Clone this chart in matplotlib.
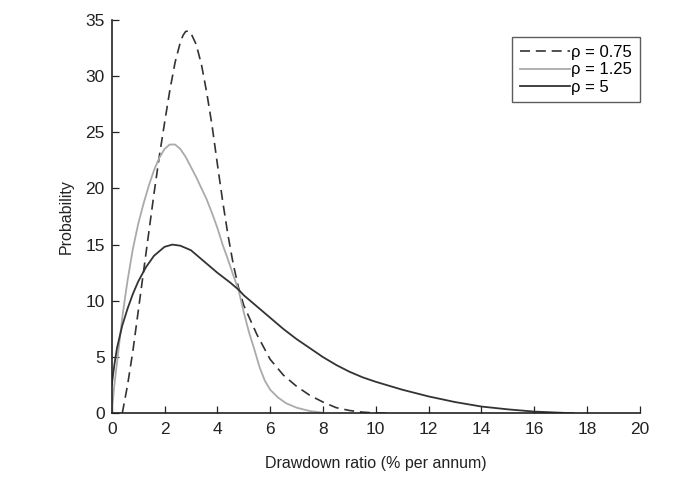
import matplotlib
matplotlib.use("Agg")
import matplotlib.pyplot as plt

plt.rcParams["font.family"] = ["Liberation Sans", "DejaVu Sans"]

# rho = 0.75 (dashed)
x_075 = [0.4, 0.6, 0.8, 1.0, 1.2, 1.4, 1.6, 1.8, 2.0, 2.2, 2.4, 2.6, 2.7, 2.8,
         2.9, 3.0, 3.2, 3.4, 3.6, 3.8, 4.0, 4.2, 4.4, 4.6, 4.8, 5.0, 5.5, 6.0,
         6.5, 7.0, 7.5, 8.0, 8.5, 9.0, 9.5, 10.0, 10.5]
y_075 = [0, 2.5, 5.5, 9, 12.5, 16, 19.5, 22.8, 25.8, 28.7, 31.2, 33.0, 33.6, 33.95,
         34.0, 33.8, 32.8, 31, 28.5, 25.6, 22.2, 18.9, 15.9, 13.3, 11.2, 9.6, 7,
         4.8, 3.4, 2.4, 1.6, 1.0, 0.5, 0.25, 0.1, 0.03, 0]

# rho = 1.25 (thin grey)
x_125 = [0.0, 0.1, 0.2, 0.3, 0.4, 0.5, 0.6, 0.8, 1.0, 1.2, 1.4, 1.6, 1.8, 2.0,
         2.2, 2.4, 2.6, 2.8, 3.0, 3.2, 3.4, 3.6, 3.8, 4.0, 4.2, 4.4, 4.6, 4.8,
         5.0, 5.2, 5.4, 5.6, 5.8, 6.0, 6.3, 6.6, 7.0, 7.5, 8.0]
y_125 = [0, 2.5, 4.5, 6.5, 8.5, 10.2, 11.8, 14.6, 16.8, 18.6, 20.2, 21.6, 22.7,
         23.5, 23.9, 23.9, 23.5, 22.8, 21.9, 21.0, 20.0, 19.0, 17.8, 16.5, 15.0,
         13.7, 12.3, 11.0, 9.0, 7.2, 5.7, 4.1, 2.9, 2.1, 1.4, 0.9, 0.5, 0.2, 0.05]

# rho = 5 (solid dark)
x_5 = [0.0, 0.1, 0.2, 0.4, 0.6, 0.8, 1.0, 1.3, 1.6, 2.0, 2.3, 2.6, 3.0, 3.5,
       4.0, 4.5, 4.8, 5.0, 5.5, 6.0, 6.5, 7.0, 7.5, 8.0, 8.5, 9.0, 9.5, 10.0,
       11, 12, 13, 14, 15, 16, 17, 17.5]
y_5 = [2.5, 4.3, 5.8, 7.8, 9.3, 10.6, 11.7, 13.0, 14.0, 14.8, 15.0, 14.9, 14.5,
       13.5, 12.5, 11.6, 11.0, 10.5, 9.5, 8.5, 7.5, 6.6, 5.8, 5.0, 4.3, 3.7, 3.2,
       2.8, 2.1, 1.5, 1.0, 0.6, 0.35, 0.15, 0.05, 0]

x_ticks = list(range(0, 21, 2))
y_ticks = list(range(0, 36, 5))

fig = plt.figure(figsize=(6.77, 4.92), dpi=100)
ax = fig.add_axes([0.165, 0.16, 0.78, 0.80])

ax.plot(x_075, y_075, color="#333333", linestyle=(0, (6, 3.5)), linewidth=1.2,
        label="ρ = 0.75")
ax.plot(x_125, y_125, color="#aaaaaa", linewidth=1.3, label="ρ = 1.25")
ax.plot(x_5, y_5, color="#333333", linewidth=1.3, label="ρ = 5")

ax.set_xlim(0, 20)
ax.set_ylim(0, 35)
ax.set_xticks(x_ticks)
ax.set_yticks(y_ticks)
ax.tick_params(direction="in", length=5, width=0.9, labelsize=12.5, colors="#222222")
ax.tick_params(axis="x", pad=6)
ax.tick_params(axis="y", pad=5)

for side in ("top", "right"):
    ax.spines[side].set_visible(False)
for side in ("left", "bottom"):
    ax.spines[side].set_linewidth(1.2)
    ax.spines[side].set_color("#222222")

ax.set_xlabel("Drawdown ratio (% per annum)", fontsize=11.5, color="#222222",
              labelpad=14)
ax.set_ylabel("Probability", fontsize=11.5, color="#222222", labelpad=8)

leg = ax.legend(loc="upper right", bbox_to_anchor=(1.0, 0.955), borderaxespad=0,
                fontsize=12, frameon=True, fancybox=False, edgecolor="#333333",
                handlelength=3.0, handletextpad=0.1, borderpad=0.45,
                labelspacing=0.15)
leg.get_frame().set_linewidth(1.0)

fig.savefig("out.png", dpi=100)
